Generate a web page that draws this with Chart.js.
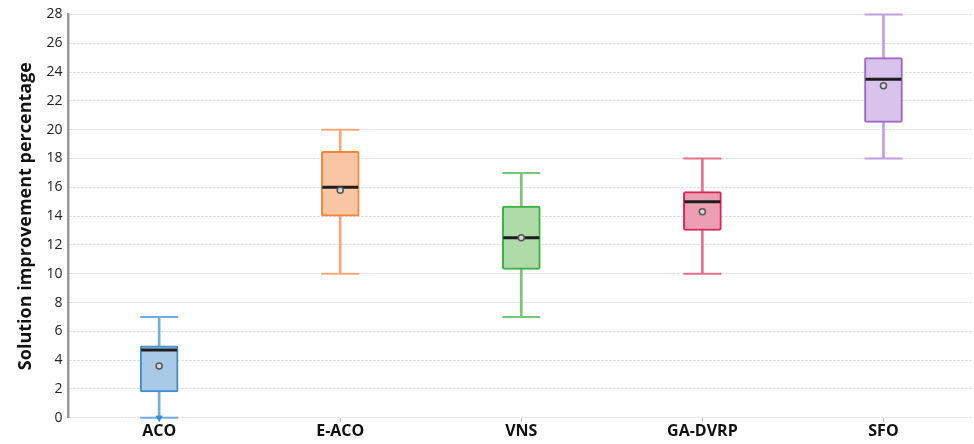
<!DOCTYPE html>
<html>
<head>
<meta charset="utf-8">
<script src="https://cdn.jsdelivr.net/npm/chart.js@4.4.1/dist/chart.umd.min.js"></script>
<style>
  html, body { margin: 0; padding: 0; background: #fff; overflow: hidden; }
  #wrap { width: 974px; height: 444px; position: relative; }
  canvas { display: block; }
</style>
</head>
<body>
<div id="wrap"><canvas id="boxChart"></canvas></div>
<script>
/* Box plot of solution improvement per algorithm */
const categories = ['ACO', 'E-ACO', 'VNS', 'GA-DVRP', 'SFO'];
const mins    = [0,    10,   7,    10,   18];
const q1s     = [1.8,  14,   10.3, 13,   20.5];
const medians = [4.7,  16,   12.5, 15,   23.5];
const q3s     = [5,    18.5, 14.7, 15.7, 25];
const maxs    = [7,    20,   17,   18,   28];
const means   = [3.6,  15.8, 12.5, 14.3, 23.05];
const outliers = [0, null, null, null, null];
const yTicks = [0, 2, 4, 6, 8, 10, 12, 14, 16, 18, 20, 22, 24, 26, 28];

const strokeColors  = ['#3f8ccb', '#f5853a', '#3fae45', '#dc2454', '#a066cc'];
const fillColors    = ['#a9cae6', '#f8c6a2', '#afdba8', '#ec9eb3', '#d8c3ec'];
const whiskerColors = ['#72addb', '#f9a877', '#7cc57a', '#e8708e', '#c19ee0'];

const BOX_W = 38;

new Chart(document.getElementById('boxChart'), {
    type: 'bar',
    data: {
        labels: categories,
        datasets: [
            {   // whisker stems
                type: 'bar', data: mins.map((m, i) => [m, maxs[i]]),
                backgroundColor: whiskerColors, barThickness: 2, grouped: false, order: 5
            },
            {   // boxes
                type: 'bar', data: q1s.map((q, i) => [q, q3s[i]]),
                backgroundColor: fillColors, borderColor: strokeColors, borderWidth: 2,
                borderSkipped: false, borderRadius: 2, barThickness: BOX_W, grouped: false, order: 4
            },
            {   // top caps
                type: 'line', data: maxs, showLine: false, clip: false,
                pointStyle: 'line', pointRadius: BOX_W / 2, pointBorderWidth: 2,
                pointBorderColor: whiskerColors, order: 3
            },
            {   // bottom caps
                type: 'line', data: mins, showLine: false, clip: false,
                pointStyle: 'line', pointRadius: BOX_W / 2, pointBorderWidth: 2,
                pointBorderColor: whiskerColors, order: 3
            },
            {   // medians
                type: 'line', data: medians, showLine: false, clip: false,
                pointStyle: 'line', pointRadius: BOX_W / 2 - 1, pointBorderWidth: 3,
                pointBorderColor: '#1e1e1e', order: 2
            },
            {   // means
                type: 'line', data: means, showLine: false, clip: false,
                pointStyle: 'circle', pointRadius: 3, pointBorderWidth: 1.5,
                pointBackgroundColor: '#d8d8d8', pointBorderColor: '#555', order: 1
            },
            {   // outlier
                type: 'line', data: outliers, showLine: false, clip: false,
                pointStyle: 'triangle', rotation: 180, pointRadius: 3.5,
                pointBackgroundColor: '#3f8ccb', pointBorderColor: '#3f8ccb', order: 0
            }
        ]
    },
    options: {
        responsive: true,
        maintainAspectRatio: false,
        animation: false,
        layout: { autoPadding: false, padding: { top: 12, right: 0, bottom: 3, left: 15 } },
        plugins: { legend: { display: false }, tooltip: { enabled: false } },
        scales: {
            x: {
                grid: { display: true, drawOnChartArea: false, offset: false, tickLength: 4, color: '#bbb' },
                border: { display: false },
                ticks: { color: '#111', font: { family: 'Open Sans', size: 16, weight: 'bold' }, padding: 0 }
            },
            y: {
                min: 0, max: 28,
                afterBuildTicks: axis => { axis.ticks = yTicks.map(v => ({ value: v })); },
                grid: { color: '#d4d4d4', drawTicks: false, lineWidth: 1 },
                border: { display: true, color: '#999', width: 2.5, dash: [2, 2] },
                ticks: { color: '#222', font: { family: 'Open Sans', size: 14 }, padding: 6 },
                title: { display: true, text: 'Solution improvement percentage', color: '#111',
                         font: { family: 'Open Sans', size: 18, weight: 'bold' }, padding: { top: 0, bottom: 4 } }
            }
        }
    }
});
</script>
</body>
</html>
